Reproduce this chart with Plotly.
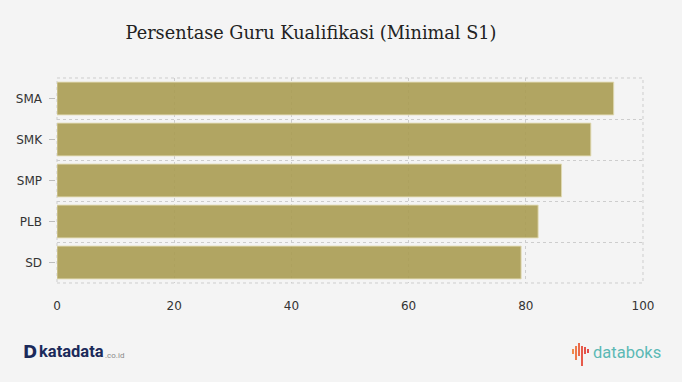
import plotly.graph_objects as go

categories = ["SMA", "SMK", "SMP", "PLB", "SD"]
values = [95.0, 91.1, 86.1, 82.1, 79.2]
x_ticks = [0, 20, 40, 60, 80, 100]

W, H = 682, 382
L, R, T, B = 57, 643, 78, 283
def px(x):
    return (x - L) / (R - L)
def py(y):
    return (B - y) / (B - T)

fig = go.Figure()
fig.add_trace(go.Bar(
    x=values, y=categories, orientation="h",
    marker=dict(color="rgba(170,156,82,0.9)", line=dict(color="rgba(225,218,180,0.9)", width=1)),
    hoverinfo="x+y",
))

grid = "#cdcdcd"
dash = "3px,3px"
fig.update_layout(
    width=W, height=H,
    paper_bgcolor="#f4f4f4", plot_bgcolor="#f4f4f4",
    margin=dict(l=L, r=W - R, t=T, b=H - B, pad=0),
    bargap=0.2,
    showlegend=False,
    title=dict(text="Persentase Guru Kualifikasi (Minimal S1)",
               font=dict(family="DejaVu Serif", size=17.7, color="#222"),
               x=311 / W, xanchor="center", y=1 - 33 / H, yanchor="middle"),
    xaxis=dict(range=[0, 100], tickvals=x_ticks, showgrid=True, griddash=dash,
               gridcolor=grid, gridwidth=1, zeroline=False, showline=False,
               tickfont=dict(family="DejaVu Sans", size=12, color="#333"),
               ticks="", ticklabelstandoff=14),
    yaxis=dict(categoryorder="array", categoryarray=categories, autorange="reversed",
               tickson="boundaries", showgrid=True, griddash=dash,
               gridcolor=grid, gridwidth=1, zeroline=False, showline=False,
               ticks="", ticklabelstandoff=14,
               tickfont=dict(family="DejaVu Sans", size=12, color="#333")),
)

# dashed frame around the plotting area
fig.add_shape(type="rect", xref="paper", yref="paper", x0=0, x1=1, y0=0, y1=1,
              line=dict(color=grid, width=1, dash=dash), layer="below")
# small tick marks beside the category labels
n = len(categories)
for i in range(n):
    yc = 1 - (i + 0.5) / n
    fig.add_shape(type="line", xref="paper", yref="paper", x0=px(49), x1=px(55),
                  y0=yc, y1=yc, line=dict(color="#bdbdbd", width=1), layer="above")

# katadata logo
fig.add_annotation(x=px(21), y=py(352), xref="paper", yref="paper",
                   text="<b>D</b>", showarrow=False, xanchor="left", yanchor="middle",
                   font=dict(family="DejaVu Sans", size=17, color="#1b2a5a"))
fig.add_annotation(x=px(37), y=py(351), xref="paper", yref="paper",
                   text="<b>katadata</b>", showarrow=False, xanchor="left", yanchor="middle",
                   font=dict(family="Roboto", size=16.5, color="#1b2a5a"))
fig.add_annotation(x=px(103), y=py(355), xref="paper", yref="paper",
                   text=".co.id", showarrow=False, xanchor="left", yanchor="middle",
                   font=dict(family="Roboto", size=8, color="#8a8a8a"))

# databoks logo
icon = [(573, 349, 354, "#f08a4b"), (576, 346, 360, "#ee7a4a"), (579, 343, 356, "#ea6a4a"),
        (582, 346, 366, "#e65a4a"), (585, 347, 354, "#e4524a"), (588, 349, 353, "#e24c4a")]
for xx, y0, y1, c in icon:
    fig.add_shape(type="line", xref="paper", yref="paper", x0=px(xx), x1=px(xx),
                  y0=py(y0), y1=py(y1), line=dict(color=c, width=2))
fig.add_annotation(x=px(591), y=py(352), xref="paper", yref="paper",
                   text="databoks", showarrow=False, xanchor="left", yanchor="middle",
                   font=dict(family="Roboto", size=16.5, color="#5bb9b5"))

fig.write_html("out.html", config={"displayModeBar": False},
               post_script="document.body.style.margin='0';")
